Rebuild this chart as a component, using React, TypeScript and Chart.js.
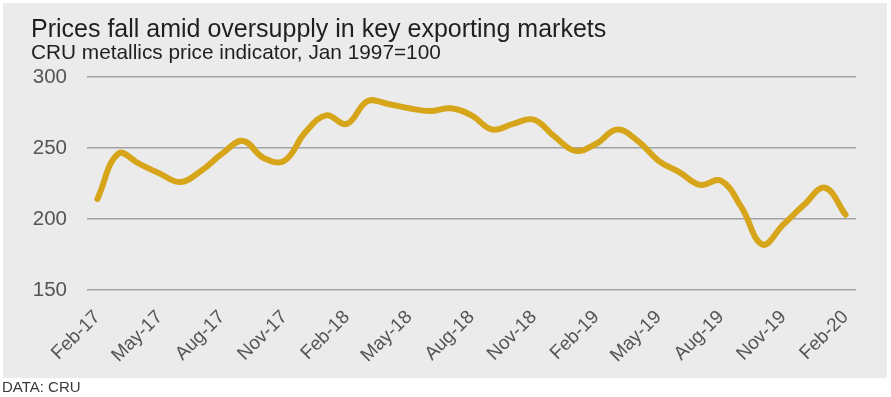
import React, { useEffect, useRef } from "react";
import { Chart, registerables } from "chart.js";

Chart.register(...registerables);

const TITLE = "Prices fall amid oversupply in key exporting markets";
const SUBTITLE = "CRU metallics price indicator, Jan 1997=100";
const SOURCE = "DATA: CRU";

const months: string[] = [
  "Feb-17", "Mar-17", "Apr-17", "May-17", "Jun-17", "Jul-17", "Aug-17", "Sep-17", "Oct-17", "Nov-17", "Dec-17", "Jan-18",
  "Feb-18", "Mar-18", "Apr-18", "May-18", "Jun-18", "Jul-18", "Aug-18", "Sep-18", "Oct-18", "Nov-18", "Dec-18", "Jan-19",
  "Feb-19", "Mar-19", "Apr-19", "May-19", "Jun-19", "Jul-19", "Aug-19", "Sep-19", "Oct-19", "Nov-19", "Dec-19", "Jan-20",
  "Feb-20",
];

const priceIndex: number[] = [
  214, 246, 239, 232, 226, 234, 246, 255, 243, 241, 261, 273,
  267, 283, 281, 278, 276, 278, 273, 263, 267, 270, 258, 248,
  253, 263, 255, 241, 233, 224, 227, 208, 182, 196, 210, 222,
  203,
];

const yMin = 150;
const yMax = 300;
const yStep = 50;

const FONT = "'Liberation Sans', Arial, sans-serif";

const framePlugin = {
  id: "frame",
  beforeDraw(chart: any) {
    const ctx = chart.ctx;
    ctx.save();
    ctx.fillStyle = "#ffffff";
    ctx.fillRect(0, 0, chart.width, chart.height);
    ctx.fillStyle = "#ebebeb";
    ctx.fillRect(3, 3, 884, 375);
    ctx.textBaseline = "alphabetic";
    ctx.textAlign = "left";
    ctx.fillStyle = "#1f1f1f";
    ctx.font = `25px ${FONT}`;
    ctx.fillText(TITLE, 31, 36.5);
    ctx.font = `20.8px ${FONT}`;
    ctx.fillText(SUBTITLE, 31, 59);
    ctx.fillStyle = "#3a3a3a";
    ctx.font = `15px ${FONT}`;
    ctx.fillText(SOURCE, 2, 392);
    ctx.restore();
  },
};

export default function App() {
  const canvasRef = useRef<HTMLCanvasElement | null>(null);

  useEffect(() => {
    const canvas = canvasRef.current;
    if (!canvas) return;
    const chart = new Chart(canvas, {
      type: "line",
      data: {
        labels: months,
        datasets: [
          {
            data: priceIndex,
            borderColor: "#d6a51a",
            borderWidth: 6,
            pointRadius: 0,
            tension: 0.4,
            fill: false,
            borderCapStyle: "round",
            borderJoinStyle: "round",
          },
        ],
      },
      options: {
        responsive: false,
        animation: false,
        layout: { padding: { top: 77, right: 35, bottom: 0, left: 0 } },
        plugins: {
          legend: { display: false },
          tooltip: { enabled: false },
          title: { display: false },
        },
        scales: {
          x: {
            offset: true,
            grid: { display: false },
            border: { display: false },
            afterFit(scale: any) {
              scale.height = 107;
            },
            ticks: {
              autoSkip: false,
              maxRotation: 45,
              minRotation: 45,
              padding: 8,
              color: "#555555",
              font: { family: FONT, size: 19 },
              callback: (_v: any, i: number) => (i % 3 === 0 ? months[i] : ""),
            },
          },
          y: {
            min: yMin,
            max: yMax,
            border: { display: false },
            grid: { color: "#a3a3a3", lineWidth: 1.5, drawTicks: false },
            afterFit(scale: any) {
              scale.width = 87;
            },
            ticks: {
              stepSize: yStep,
              padding: 20,
              color: "#555555",
              font: { family: FONT, size: 20.5 },
            },
          },
        },
      },
      plugins: [framePlugin],
    });
    return () => chart.destroy();
  }, []);

  return (
    <div style={{ position: "absolute", left: 0, top: 0, width: 891, height: 397 }}>
      <canvas ref={canvasRef} width={891} height={397} style={{ display: "block", width: 891, height: 397 }} />
    </div>
  );
}
